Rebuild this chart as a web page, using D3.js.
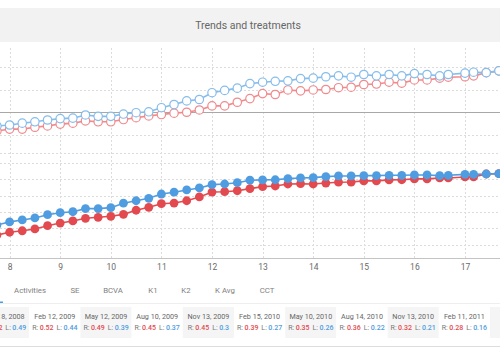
<!DOCTYPE html>
<html>
<head>
<meta charset="utf-8">
<script src="https://cdn.jsdelivr.net/npm/d3@7"></script>
<style>
  body { margin: 0; background: #fff; font-family: Roboto, "Open Sans", sans-serif; }
  svg { display: block; }
</style>
</head>
<body>
<svg id="chart" width="500" height="350"></svg>
<script>
// ages (years) of each measurement
const ages = [7.75, 8, 8.25, 8.5, 8.75, 9, 9.25, 9.5, 9.75, 10, 10.25, 10.5, 10.75, 11, 11.25, 11.5, 11.75, 12, 12.25, 12.5, 12.75,
  13, 13.25, 13.5, 13.75, 14, 14.25, 14.5, 14.75, 15, 15.25, 15.5, 15.75, 16, 16.25, 16.5, 16.67, 17, 17.17, 17.42, 17.67, 17.92];

// upper panel (open circles)
const upperL = [23.20, 23.22, 23.26, 23.29, 23.33, 23.36, 23.37, 23.44, 23.41, 23.41, 23.46, 23.49, 23.51, 23.60, 23.67, 23.75, 23.78, 23.93, 23.98, 24.03, 24.13,
  24.16, 24.18, 24.19, 24.24, 24.25, 24.28, 24.30, 24.27, 24.33, 24.30, 24.33, 24.30, 24.35, 24.33, 24.30, 24.33, 24.36, 24.38, 24.37, 24.41, 24.43];
const upperR = [23.09, 23.13, 23.13, 23.17, 23.20, 23.24, 23.26, 23.31, 23.29, 23.29, 23.34, 23.38, 23.42, 23.45, 23.48, 23.50, 23.55, 23.64, 23.64, 23.72, 23.80,
  23.91, 23.89, 23.99, 23.97, 23.99, 24.00, 24.04, 24.05, 24.11, 24.12, 24.16, 24.14, 24.21, 24.21, 24.25, 24.27, 24.28, 24.30, 24.37, 24.41, 24.43];

// lower panel (filled circles)
const lowerL = [-3.79, -3.60, -3.48, -3.36, -3.16, -3.04, -2.98, -2.79, -2.79, -2.73, -2.46, -2.31, -2.16, -1.90, -1.79, -1.65, -1.53, -1.33, -1.29, -1.21, -1.06,
  -1.04, -1.03, -0.96, -0.92, -0.90, -0.84, -0.80, -0.80, -0.78, -0.78, -0.76, -0.76, -0.74, -0.74, -0.78, -0.76, -0.70, -0.70, -0.68, -0.66, -0.64];
const lowerR = [-4.40, -4.23, -4.14, -4.03, -3.83, -3.67, -3.54, -3.38, -3.32, -3.26, -3.14, -2.89, -2.71, -2.49, -2.45, -2.31, -2.08, -1.78, -1.76, -1.70, -1.57,
  -1.45, -1.41, -1.29, -1.27, -1.29, -1.23, -1.18, -1.17, -1.10, -1.10, -1.04, -1.03, -0.98, -0.98, -0.92, -0.92, -0.86, -0.86, -0.68, -0.66, -0.64];

const xTicks = [8, 9, 10, 11, 12, 13, 14, 15, 16, 17];
const upperTicks = [23, 24, 24.5];
const upperRef = 23.5;
const lowerTicks = [-5, -4, -3, -2, -1, 0];

const tabs = ["Activities", "SE", "BCVA", "K1", "K2", "K Avg", "CCT"];

const visitDates = ["Nov 18, 2008", "Feb 12, 2009", "May 12, 2009", "Aug 10, 2009", "Nov 13, 2009", "Feb 15, 2010",
  "May 10, 2010", "Aug 14, 2010", "Nov 13, 2010", "Feb 11, 2011"];
const visitR = ["0.52", "0.52", "0.49", "0.45", "0.45", "0.39", "0.35", "0.36", "0.32", "0.28"];
const visitL = ["0.49", "0.44", "0.39", "0.37", "0.3", "0.27", "0.26", "0.22", "0.21", "0.16"];

const blue = "#4f9de0", red = "#e34a4f";
const blueLight = "#86bdec", redLight = "#f08a8c";

const svg = d3.select("#chart");

// title bar
svg.append("rect").attr("x", 0).attr("y", 8).attr("width", 500).attr("height", 34).attr("fill", "#f2f2f2");
svg.append("text").attr("x", 248).attr("y", 28.5).attr("text-anchor", "middle")
  .attr("font-size", 10.5).attr("fill", "#666").text("Trends and treatments");

const x = d3.scaleLinear().domain([8, 17]).range([9.6, 465]);
const yUp = d3.scaleLinear().domain([22.6, 25]).range([153.2, 44]);
const yLow = d3.scaleLinear().domain([-5.8, 0.6]).range([258, 153]);

const grid = svg.append("g").attr("stroke", "#dcdcdc").attr("stroke-dasharray", "2,2").attr("stroke-width", 1);
grid.selectAll(".v").data(xTicks).join("line")
  .attr("x1", d => Math.round(x(d)) + 0.5).attr("x2", d => Math.round(x(d)) + 0.5)
  .attr("y1", 48).attr("y2", 258);
grid.selectAll(".hu").data(upperTicks).join("line")
  .attr("x1", 0).attr("x2", 500)
  .attr("y1", d => Math.round(yUp(d)) + 0.5).attr("y2", d => Math.round(yUp(d)) + 0.5);
grid.selectAll(".hl").data(lowerTicks).join("line")
  .attr("x1", 0).attr("x2", 500)
  .attr("y1", d => Math.round(yLow(d)) + 0.5).attr("y2", d => Math.round(yLow(d)) + 0.5);
// boundary between the two panels
grid.append("line").attr("x1", 0).attr("x2", 500).attr("y1", 153.5).attr("y2", 153.5);

// reference line in upper panel
svg.append("line").attr("x1", 0).attr("x2", 500)
  .attr("y1", Math.round(yUp(upperRef)) + 0.5).attr("y2", Math.round(yUp(upperRef)) + 0.5)
  .attr("stroke", "#a8a8a8").attr("stroke-width", 1);

// x axis
const xAxis = svg.append("g").attr("transform", "translate(0,258)")
  .call(d3.axisBottom(x).tickValues(xTicks).tickSize(0).tickPadding(6).tickFormat(d3.format("d")));
xAxis.select(".domain").remove();
xAxis.selectAll("text").attr("font-size", 8.5).attr("fill", "#6a6a6a").attr("font-family", "Roboto");
svg.append("line").attr("x1", 0).attr("x2", 500).attr("y1", 258.5).attr("y2", 258.5).attr("stroke", "#c4c4c4");

function drawSeries(values, yScale, color, light, open) {
  const pts = ages.map((a, i) => [a, values[i]]);
  const line = d3.line().x(d => x(d[0])).y(d => yScale(d[1]));
  const g = svg.append("g");
  g.append("path").datum(pts).attr("d", line).attr("fill", "none")
    .attr("stroke", open ? light : color).attr("stroke-width", 1.6);
  g.selectAll("circle").data(pts).join("circle")
    .attr("cx", d => x(d[0])).attr("cy", d => yScale(d[1])).attr("r", open ? 4.2 : 4.4)
    .attr("fill", open ? "#fff" : color)
    .attr("stroke", open ? light : color).attr("stroke-width", open ? 1.2 : 0);
}

drawSeries(upperR, yUp, red, redLight, true);
drawSeries(upperL, yUp, blue, blueLight, true);
drawSeries(lowerR, yLow, red, redLight, false);
drawSeries(lowerL, yLow, blue, blueLight, false);

// tabs
const tabX = [30, 75, 113, 153, 186, 225, 267];
svg.append("g").selectAll("text").data(tabs).join("text")
  .attr("x", (d, i) => tabX[i]).attr("y", 293).attr("text-anchor", "middle")
  .attr("font-size", 7.8).attr("fill", "#808080").text(d => d);
svg.append("line").attr("x1", 0).attr("x2", 500).attr("y1", 303.5).attr("y2", 303.5).attr("stroke", "#eeeeee");
svg.append("rect").attr("x", 0).attr("y", 301.5).attr("width", 3).attr("height", 1.5).attr("fill", blue);

// visit cards (one extra background cell is cut by the right edge)
const cellW = 51.2;
svg.append("g").selectAll("rect").data(d3.range(visitDates.length + 1)).join("rect")
  .attr("x", i => -22 + i * cellW).attr("y", 307).attr("width", cellW).attr("height", 31)
  .attr("fill", i => i % 2 === 0 ? "#f5f5f5" : "#fff");
const cards = svg.append("g").selectAll("g").data(visitDates).join("g")
  .attr("transform", (d, i) => `translate(${-22 + i * cellW + cellW / 2},0)`);
cards.append("text").attr("x", 0).attr("y", 319).attr("text-anchor", "middle")
  .attr("font-size", 7.2).attr("fill", "#666").text(d => d);
const vals = cards.append("text").attr("x", 0).attr("y", 330).attr("text-anchor", "middle")
  .attr("font-size", 7);
vals.append("tspan").attr("fill", "#777").text("R:");
vals.append("tspan").attr("dx", 1.5).attr("fill", red).attr("font-weight", 500).text((d, i) => visitR[i]);
vals.append("tspan").attr("dx", 3).attr("fill", "#777").text("L:");
vals.append("tspan").attr("dx", 1.5).attr("fill", blue).attr("font-weight", 500).text((d, i) => visitL[i]);
svg.append("line").attr("x1", 0).attr("x2", 500).attr("y1", 346.5).attr("y2", 346.5).attr("stroke", "#dddddd");
</script>
</body>
</html>
